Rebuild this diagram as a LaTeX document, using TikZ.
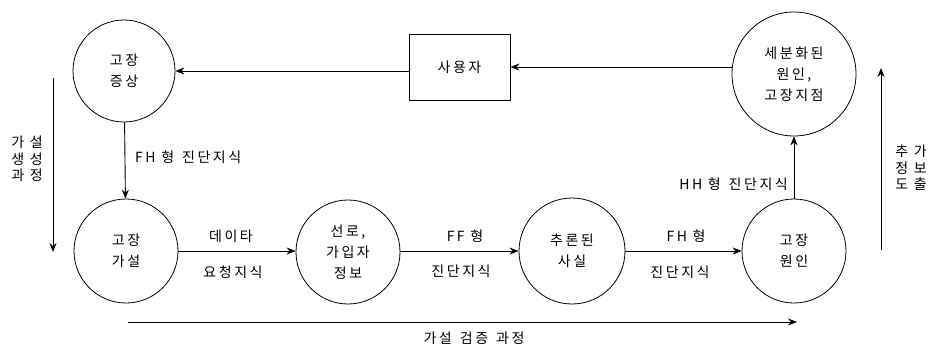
\documentclass[tikz,border=0pt]{standalone}
\usepackage{fontspec}
\setmainfont{Noto Sans CJK KR}[LetterSpace=18]
\usetikzlibrary{arrows.meta}
\begin{document}
\begin{tikzpicture}[x=1pt,y=-1pt,
  every node/.style={font=\fontsize{14}{21}\selectfont},
  proc/.style={draw,circle,line width=0.8pt,inner sep=0pt,align=center},
  ubox/.style={draw,rectangle,line width=0.8pt,minimum width=101pt,minimum height=66pt},
  flow/.style={line width=0.9pt,-{Stealth[length=9pt,width=7pt,inset=3pt]}},
  lbl/.style={inner sep=1pt},
  vlbl/.style={align=center,font=\fontsize{14}{16.5}\selectfont}]
\useasboundingbox (0,0) rectangle (934,351);
% nodes
\node[proc,minimum size=102pt] (s1) at (124,71) {고장\\증상};
\node[ubox] (u) at (459.5,67) {사용자};
\node[proc,minimum size=124pt] (s2) at (794,74) {세분화된\\원인,\\고장지점};
\node[proc,minimum size=104pt] (b1) at (126,251) {고장\\가설};
\node[proc,minimum size=104pt] (b2) at (348,252) {선로,\\가입자\\정보};
\node[proc,minimum size=106pt] (b3) at (572,251) {추론된\\사실};
\node[proc,minimum size=104pt] (b4) at (794,251) {고장\\원인};
% connectors
\draw[flow] (u.west |- s1.east) -- (s1.east);
\draw[flow] (s2.west |- u.east) -- (u.east);
\draw[flow] (s1) -- (b1);
\draw[flow] (b1.east) -- (b2.west |- b1.east);
\draw[flow] (b2.east |- b1.east) -- (b3.west |- b1.east);
\draw[flow] (b3.east |- b1.east) -- (b4.west |- b1.east);
\draw[flow] (b4) -- (s2);
% edge labels
\node[lbl,anchor=west] (l1) at (134,157) {FH 형\hspace{8pt}진단지식};
\node[lbl,anchor=east] (l2) at (789,184) {HH 형\hspace{8pt}진단지식};
\node[lbl] (l3) at (231,236) {데이타};
\node[lbl] (l4) at (233,272) {요청지식};
\node[lbl] (l5) at (465,236) {FF 형};
\node[lbl] (l6) at (461,271) {진단지식};
\node[lbl] (l7) at (686,236) {FH 형};
\node[lbl] (l8) at (680,272) {진단지식};
% process arrows
\coordinate (la) at (53,78);
\coordinate (lb) at (53,252);
\draw[flow] (la) -- (lb);
\node[vlbl] (lt) at (27,159) {가 설\\생 성\\과 정};
\coordinate (ra) at (881,250);
\coordinate (rb) at (881,68);
\draw[flow] (ra) -- (rb);
\node[vlbl] (rt) at (911,168) {추 가\\정 보\\도 출};
\coordinate (ba) at (128,322);
\coordinate (bb) at (797,322);
\draw[flow] (ba) -- (bb);
\node[lbl] (bt) at (474,338) {가설\hspace{8pt}검증\hspace{8pt}과정};
\end{tikzpicture}
\end{document}
